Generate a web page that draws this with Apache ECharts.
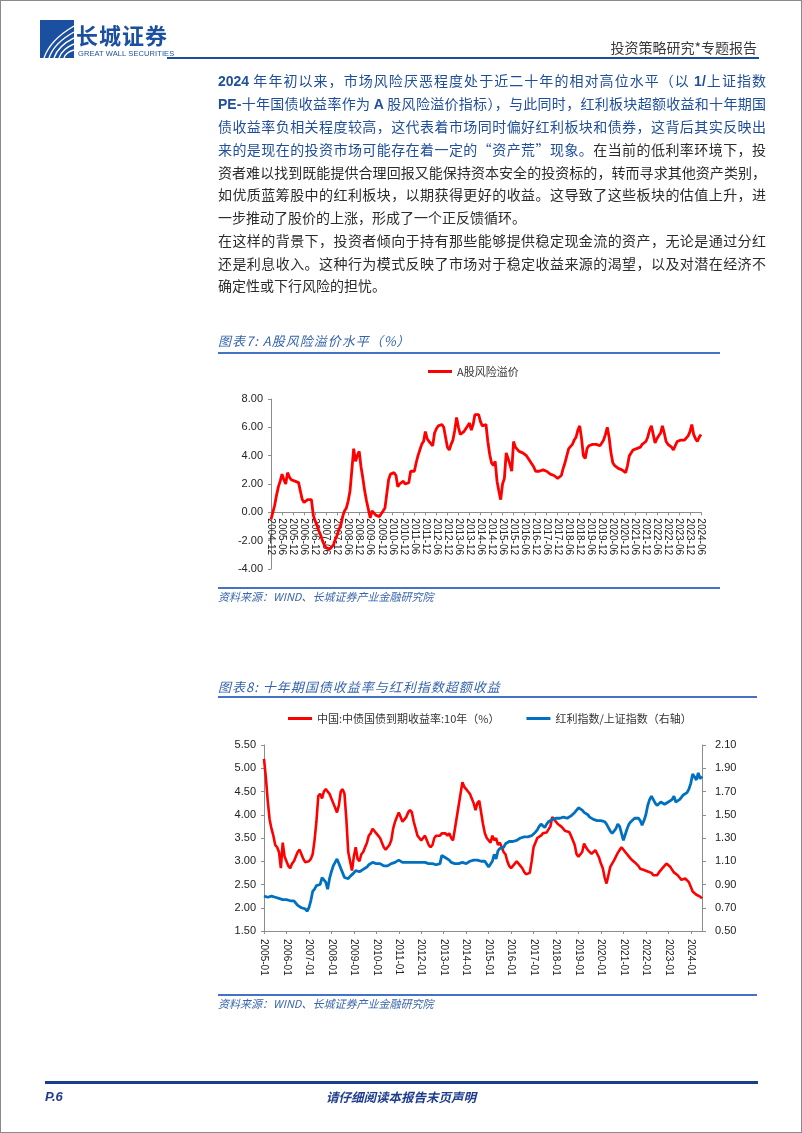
<!DOCTYPE html>
<html><head><meta charset="utf-8">
<script src="https://cdn.jsdelivr.net/npm/echarts@6/dist/echarts.min.js"></script>
<style>
html,body{margin:0;padding:0;background:#fff;}
#page{position:relative;width:802px;height:1133px;overflow:hidden;font-family:'Noto Sans CJK SC',sans-serif;background:#fff;}
#frame{position:absolute;left:0;top:0;width:800px;height:1131px;border:1px solid #8a8a8a;z-index:5;pointer-events:none;}
#chart{position:absolute;left:0;top:0;width:802px;height:1133px;z-index:1;}
.t{position:absolute;z-index:2;white-space:nowrap;}
.ln{position:absolute;z-index:2;left:218px;width:548px;font-size:14px;line-height:20px;height:20px;text-align:justify;text-align-last:justify;white-space:nowrap;color:#2b2b2b;}
.last{text-align-last:left;}
.bl{color:#1f4e9a;}
.ln b{font-family:'Liberation Sans',Arial,sans-serif;font-weight:bold;}
.ct{position:absolute;z-index:2;left:218px;font-size:13px;font-style:italic;color:#3564ad;letter-spacing:1px;white-space:nowrap;line-height:16px;}
.src{position:absolute;z-index:2;left:218px;font-size:11px;font-style:italic;color:#3a66ae;white-space:nowrap;line-height:14px;}
.hr{position:absolute;z-index:2;background:#4472c4;}
</style></head>
<body>
<div id="page">
<div id="chart"></div>
<div id="frame"></div>

<!-- header -->
<svg class="t" style="left:40px;top:20px" width="34" height="38" viewBox="0 0 34 38">
  <rect x="0" y="0" width="34" height="38" fill="#1b4f9f"/>
  <path d="M4 38 Q10 20 34 6" stroke="#fff" stroke-width="1.4" fill="none"/>
  <path d="M9 38 Q14 23 34 12" stroke="#fff" stroke-width="1.4" fill="none"/>
  <path d="M14 38 Q18 26 34 18" stroke="#fff" stroke-width="1.4" fill="none"/>
  <path d="M19 38 Q22 29 34 24" stroke="#fff" stroke-width="1.4" fill="none"/>
  <path d="M24 38 Q26 32 34 30" stroke="#fff" stroke-width="1.4" fill="none"/>
</svg>
<div class="t" style="left:76px;top:20px;font-size:22px;line-height:28px;font-weight:bold;color:#1b4f9f;letter-spacing:1px;">长城证券</div>
<div class="t" style="left:78px;top:49px;font-size:7.5px;line-height:9px;font-family:'Liberation Sans',Arial,sans-serif;color:#1b4f9f;letter-spacing:0.1px;">GREAT WALL SECURITIES</div>
<div class="t" style="right:45px;top:38px;font-size:14px;line-height:18px;color:#3a3a3a;">投资策略研究*专题报告</div>
<div class="t" style="left:167px;top:57px;width:592px;height:2px;background:#1e4c9c;"></div>

<!-- body text -->
<div class="ln bl" style="top:70px"><b>2024</b> 年年初以来，市场风险厌恶程度处于近二十年的相对高位水平（以 <b>1/</b>上证指数</div>
<div class="ln bl" style="top:93px"><b>PE-</b>十年国债收益率作为 <b>A</b> 股风险溢价指标），与此同时，红利板块超额收益和十年期国</div>
<div class="ln bl" style="top:116px">债收益率负相关程度较高，这代表着市场同时偏好红利板块和债券，这背后其实反映出</div>
<div class="ln" style="top:139px"><span class="bl">来的是现在的投资市场可能存在着一定的“资产荒”现象。</span>在当前的低利率环境下，投</div>
<div class="ln" style="top:162px">资者难以找到既能提供合理回报又能保持资本安全的投资标的，转而寻求其他资产类别，</div>
<div class="ln" style="top:184px">如优质蓝筹股中的红利板块，以期获得更好的收益。这导致了这些板块的估值上升，进</div>
<div class="ln last" style="top:207px">一步推动了股价的上涨，形成了一个正反馈循环。</div>
<div class="ln" style="top:230px">在这样的背景下，投资者倾向于持有那些能够提供稳定现金流的资产，无论是通过分红</div>
<div class="ln" style="top:253px">还是利息收入。这种行为模式反映了市场对于稳定收益来源的渴望，以及对潜在经济不</div>
<div class="ln last" style="top:275px">确定性或下行风险的担忧。</div>

<!-- chart 1 frame text -->
<div class="ct" style="top:333px">图表7: A股风险溢价水平（%）</div>
<div class="hr" style="left:218px;top:352px;width:502px;height:1.5px"></div>
<div class="hr" style="left:218px;top:587px;width:502px;height:1.5px"></div>
<div class="src" style="top:589px">资料来源：WIND、长城证券产业金融研究院</div>

<!-- chart 2 frame text -->
<div class="ct" style="top:679px">图表8: 十年期国债收益率与红利指数超额收益</div>
<div class="hr" style="left:218px;top:696px;width:539px;height:1.5px"></div>
<div class="hr" style="left:218px;top:994px;width:539px;height:1.5px"></div>
<div class="src" style="top:996px">资料来源：WIND、长城证券产业金融研究院</div>

<!-- footer -->
<div class="t" style="left:45px;top:1081px;width:713px;height:3px;background:#1e3c8c;"></div>
<div class="t" style="left:45px;top:1089px;font-size:13px;line-height:16px;font-weight:bold;font-style:italic;color:#1e3c8c;font-family:'Liberation Sans',Arial,sans-serif;">P.6</div>
<div class="t" style="left:0;width:802px;text-align:center;top:1089px;font-size:12.5px;line-height:16px;font-weight:bold;font-style:italic;color:#1e3c8c;">请仔细阅读本报告末页声明</div>
</div>

<script>
// ---------- data ----------
function monthRange(a, b) {
  var ya = +a.slice(0, 4), ma = +a.slice(5, 7), yb = +b.slice(0, 4), mb = +b.slice(5, 7), out = [];
  while (ya < yb || (ya === yb && ma <= mb)) {
    out.push(ya + '-' + (ma < 10 ? '0' : '') + ma);
    ma++; if (ma > 12) { ma = 1; ya++; }
  }
  return out;
}
var cat1 = monthRange('2004-12', '2024-06');
var cat2 = monthRange('2005-01', '2024-07');

var seriesName1 = 'A股风险溢价';
var riskPremium = [
-0.5,0.0,0.5,1.2,1.8,2.2,2.7,2.3,2.0,2.8,2.5,2.3,2.4,2.2,2.3,2.1,1.5,0.9,0.7,0.8,
0.9,1.0,0.9,-0.2,-0.6,-0.9,-1.3,-1.6,-2.0,-2.3,-2.5,-2.6,-2.6,-2.5,-2.3,-1.9,-1.6,-1.2,-0.9,-0.3,
0.1,0.3,0.8,1.5,3.0,4.5,3.6,4.0,4.3,3.2,2.4,1.5,0.8,0.2,-0.4,0.1,0.2,-0.2,-0.3,-0.3,
-0.2,0.1,0.3,0.4,2.3,2.7,2.6,2.8,2.6,1.8,2.0,2.1,2.2,2.0,2.0,2.1,2.9,3.0,2.9,3.5,
4.0,4.4,4.8,5.0,5.7,5.2,5.0,4.9,4.7,5.6,5.9,6.1,6.0,6.2,6.0,5.3,4.6,4.4,4.8,5.1,
5.8,6.7,6.0,5.5,5.4,5.7,5.8,6.1,6.3,5.8,6.2,6.9,7.0,6.9,6.4,6.1,6.0,6.2,5.0,4.1,
3.5,3.3,3.6,2.2,1.5,0.9,2.0,2.4,4.2,3.8,3.4,2.9,5.0,4.6,4.5,4.3,4.2,4.2,4.1,4.0,
3.8,3.6,3.5,3.2,2.9,2.8,2.9,2.9,3.0,3.0,2.9,2.8,2.7,2.6,2.6,2.5,2.4,2.3,2.6,3.1,
3.5,4.0,4.5,4.6,4.8,5.1,5.3,5.8,6.1,5.2,4.0,3.8,4.5,4.7,4.8,4.8,4.9,4.8,4.7,4.7,
4.9,5.1,5.5,6.0,5.3,4.2,3.5,3.3,3.2,3.1,3.0,3.0,2.9,2.8,3.3,4.0,4.1,4.4,4.4,4.5,
4.5,4.6,4.8,4.8,5.0,5.3,5.8,6.1,5.5,4.9,5.2,5.4,5.6,6.1,5.6,5.0,4.8,4.7,4.6,4.4,
4.7,5.0,5.0,5.1,5.2,5.1,5.2,5.4,5.7,6.2,5.5,5.2,5.0,5.3,5.5
];

var seriesName2 = '中国:中债国债到期收益率:10年（%）';
var seriesName3 = '红利指数/上证指数（右轴）';
var bondYield = [
5.2,4.8,4.3,3.9,3.7,3.55,3.35,3.3,3.2,2.85,3.4,3.1,3.0,2.9,2.85,2.95,3.0,3.1,3.2,3.25,
3.15,3.05,2.98,2.97,3.0,3.05,3.15,3.45,3.85,4.4,4.45,4.35,4.5,4.55,4.5,4.45,4.35,4.25,4.15,4.05,
4.2,4.5,4.55,4.45,3.9,3.2,3.0,2.8,3.1,3.3,3.05,3.0,3.15,3.2,3.3,3.4,3.55,3.6,3.7,3.65,
3.6,3.55,3.5,3.4,3.3,3.25,3.3,3.35,3.45,3.7,3.85,3.95,4.05,3.95,3.85,3.9,3.95,4.05,4.1,4.05,
3.85,3.7,3.55,3.5,3.45,3.5,3.55,3.45,3.35,3.3,3.35,3.5,3.55,3.55,3.55,3.6,3.6,3.6,3.55,3.6,
3.5,3.45,3.7,3.95,4.2,4.45,4.7,4.6,4.55,4.5,4.45,4.35,4.25,4.1,4.25,4.3,4.05,3.8,3.6,3.5,
3.5,3.4,3.55,3.45,3.5,3.35,3.4,3.3,3.2,3.15,3.0,2.9,2.85,2.9,2.95,3.0,2.95,2.9,2.85,2.77,
2.72,2.7,2.75,3.0,3.3,3.4,3.5,3.52,3.55,3.6,3.6,3.62,3.66,3.75,3.95,3.9,3.85,3.8,3.78,3.74,
3.7,3.65,3.63,3.63,3.55,3.45,3.35,3.15,3.1,3.1,3.2,3.38,3.3,3.24,3.2,3.16,3.2,3.24,3.2,3.08,
2.95,2.85,2.65,2.52,2.7,2.88,2.95,3.02,3.1,3.18,3.24,3.3,3.28,3.2,3.16,3.1,3.05,3.02,2.98,2.95,
2.9,2.84,2.82,2.81,2.8,2.78,2.77,2.75,2.7,2.66,2.7,2.76,2.81,2.86,2.9,2.95,2.92,2.88,2.82,2.76,
2.72,2.7,2.65,2.6,2.59,2.63,2.66,2.55,2.45,2.35,2.31,2.28,2.27,2.24,2.2
];
var dividendRatio = [
0.80,0.80,0.79,0.79,0.80,0.79,0.79,0.78,0.78,0.77,0.77,0.78,0.77,0.77,0.76,0.77,0.76,0.74,0.72,0.71,
0.70,0.70,0.69,0.67,0.70,0.76,0.84,0.86,0.89,0.88,0.90,0.96,0.94,0.92,0.86,0.95,1.01,1.06,1.09,1.12,
1.08,1.04,1.00,0.96,0.95,0.95,0.97,0.98,1.00,1.02,1.01,1.01,1.02,1.03,1.04,1.05,1.07,1.07,1.09,1.09,
1.08,1.08,1.08,1.07,1.06,1.05,1.06,1.07,1.08,1.08,1.09,1.10,1.11,1.10,1.09,1.09,1.09,1.10,1.09,1.09,
1.09,1.08,1.09,1.09,1.09,1.10,1.09,1.09,1.08,1.08,1.08,1.07,1.07,1.06,1.08,1.15,1.15,1.13,1.12,1.11,
1.09,1.09,1.08,1.08,1.08,1.09,1.09,1.08,1.08,1.09,1.10,1.11,1.11,1.10,1.11,1.11,1.10,1.10,1.10,1.09,
1.05,1.06,1.10,1.16,1.12,1.19,1.21,1.20,1.22,1.25,1.24,1.27,1.28,1.27,1.27,1.28,1.29,1.30,1.30,1.31,
1.31,1.31,1.32,1.32,1.33,1.35,1.37,1.40,1.42,1.41,1.39,1.42,1.44,1.45,1.46,1.47,1.47,1.46,1.47,1.47,
1.48,1.48,1.47,1.48,1.49,1.50,1.52,1.53,1.56,1.57,1.54,1.52,1.51,1.50,1.48,1.47,1.46,1.45,1.45,1.45,
1.45,1.44,1.44,1.42,1.39,1.36,1.34,1.36,1.38,1.42,1.40,1.34,1.28,1.33,1.38,1.42,1.44,1.45,1.47,1.48,
1.47,1.45,1.41,1.45,1.50,1.58,1.63,1.66,1.63,1.60,1.58,1.59,1.61,1.60,1.59,1.60,1.61,1.62,1.63,1.66,
1.61,1.62,1.63,1.65,1.67,1.67,1.69,1.72,1.77,1.85,1.84,1.80,1.86,1.81,1.83
];

var y1Ticks = [-4, -2, 0, 2, 4, 6, 8];
var y2Ticks = [1.5, 2.0, 2.5, 3.0, 3.5, 4.0, 4.5, 5.0, 5.5];
var y3Ticks = [0.5, 0.7, 0.9, 1.1, 1.3, 1.5, 1.7, 1.9, 2.1];

// ---------- chart ----------
var FONT = "'Liberation Sans','Noto Sans CJK SC',sans-serif";
var chart = echarts.init(document.getElementById('chart'), null, {renderer: 'canvas'});
var axisGray = '#8c8c8c';
var labelColor = '#222';
var g1 = {left: 271, top: 399, width: 430, height: 170};
var y1Min = -4, y1Max = 8;
// place the category axis of chart 1 at the zero level of its value axis
var zeroOffset = -(g1.height * (0 - y1Min) / (y1Max - y1Min));
var option = {
  animation: false,
  textStyle: {fontFamily: FONT},
  grid: [
    g1,
    {left: 264, top: 745, width: 438, height: 186}
  ],
  legend: [
    {data: [seriesName1], left: 428, top: 366, padding: 0, icon: 'rect', itemWidth: 24, itemHeight: 3,
     textStyle: {fontSize: 11, color: '#333', fontFamily: "'Noto Sans CJK SC',sans-serif"}},
    {data: [seriesName2, seriesName3], left: 288, top: 713, padding: 0, icon: 'rect', itemWidth: 24, itemHeight: 3, itemGap: 27,
     textStyle: {fontSize: 11, color: '#333', fontFamily: "'Noto Sans CJK SC',sans-serif"}}
  ],
  xAxis: [
    {gridIndex: 0, type: 'category', data: cat1, boundaryGap: false, offset: zeroOffset,
     axisLine: {onZero: false, lineStyle: {color: axisGray}},
     axisTick: {show: true, interval: 5, length: 3, lineStyle: {color: axisGray}},
     axisLabel: {interval: 5, rotate: -90, fontSize: 10, color: labelColor, margin: 6, fontFamily: FONT},
     splitLine: {show: false}},
    {gridIndex: 1, type: 'category', data: cat2, boundaryGap: false,
     axisLine: {lineStyle: {color: axisGray}},
     axisTick: {show: true, interval: 11, length: 3, lineStyle: {color: axisGray}},
     axisLabel: {interval: 11, rotate: -90, fontSize: 10, color: labelColor, margin: 8, fontFamily: FONT},
     splitLine: {show: false}}
  ],
  yAxis: [
    {gridIndex: 0, type: 'value', min: y1Min, max: y1Max, interval: 2,
     axisLine: {show: true, lineStyle: {color: axisGray}},
     axisTick: {show: true, length: 3, lineStyle: {color: axisGray}},
     axisLabel: {color: labelColor, fontSize: 11, margin: 8, formatter: function (v) { return v.toFixed(2); }},
     splitLine: {show: false}},
    {gridIndex: 1, type: 'value', min: 1.5, max: 5.5, interval: 0.5,
     axisLine: {show: true, lineStyle: {color: axisGray}},
     axisTick: {show: true, length: 3, lineStyle: {color: axisGray}},
     axisLabel: {color: labelColor, fontSize: 11, margin: 8, formatter: function (v) { return v.toFixed(2); }},
     splitLine: {show: false}},
    {gridIndex: 1, type: 'value', position: 'right', min: 0.5, max: 2.1,
     axisLine: {show: true, lineStyle: {color: axisGray}},
     axisTick: {show: true, length: 4, lineStyle: {color: axisGray}, customValues: y3Ticks},
     axisLabel: {color: labelColor, fontSize: 11, margin: 13, customValues: y3Ticks,
                 formatter: function (v) { return (+v).toFixed(2); }},
     splitLine: {show: false}}
  ],
  series: [
    {name: seriesName1, type: 'line', xAxisIndex: 0, yAxisIndex: 0, data: riskPremium,
     showSymbol: false, symbol: 'none', color: '#ff0000', lineStyle: {width: 2.8, color: '#ff0000'}},
    {name: seriesName2, type: 'line', xAxisIndex: 1, yAxisIndex: 1, data: bondYield,
     showSymbol: false, symbol: 'none', color: '#ff0000', lineStyle: {width: 2.6, color: '#ff0000'}},
    {name: seriesName3, type: 'line', xAxisIndex: 1, yAxisIndex: 2, data: dividendRatio,
     showSymbol: false, symbol: 'none', color: '#0070c0', lineStyle: {width: 2.8, color: '#0070c0'}}
  ]
};
chart.setOption(option);
</script>
</body></html>
